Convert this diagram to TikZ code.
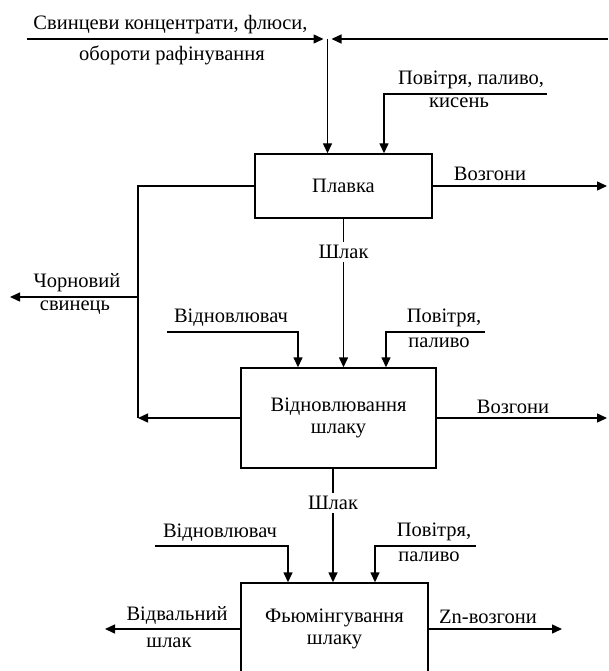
\documentclass[tikz,border=0pt]{standalone}
\usepackage{fontspec}
\setmainfont{Liberation Serif}
\usetikzlibrary{arrows.meta}
\begin{document}
\begin{tikzpicture}[x=1pt,y=-1pt,
  every node/.style={font=\fontsize{20.5}{22}\selectfont, inner sep=1pt, text=black},
  proc/.style={draw, line width=1.4pt, align=center, inner sep=0pt},
  flow/.style={line width=1.4pt},
  arr/.style={flow, -{Triangle[length=10pt,width=9pt]}},
  gap/.style={fill=white, inner sep=3pt}]
\clip (0,0) rectangle (608,671);

% process boxes
\node[proc, minimum width=177pt, minimum height=64pt] (plav) at (343.5,186) {Плавка};
\node[proc, minimum width=195pt, minimum height=100pt] (vidn) at (338.5,418) {Відновлювання\\шлаку};
\node[proc, minimum width=187pt, minimum height=92pt] (fum) at (334.5,629) {Фьюмінгування\\шлаку};

% labels
\node (lconc) at (170.5,25) {Свинцеви концентрати, флюси,};
\node (lobor) at (172,55) {обороти рафінування};
\node (lair1a) at (471,80) {Повітря, паливо,};
\node (lair1b) at (459,103) {кисень};
\node (lvoz1) at (490,174) {Возгони};
\node[gap] (shl1) at (343.5,252) {Шлак};
\node (lch1) at (77,283) {Чорновий};
\node (lch2) at (75,308) {свинець};
\node (lred2) at (231,318) {Відновлювач};
\node (lair2a) at (444,318) {Повітря,};
\node (lair2b) at (439,343) {паливо};
\node (lvoz2) at (513,407) {Возгони};
\node[gap] (shl2) at (333,503) {Шлак};
\node (lred3) at (220,533) {Відновлювач};
\node (lair3a) at (434,532) {Повітря,};
\node (lair3b) at (429,557) {паливо};
\node (ldump1) at (177,615) {Відвальний};
\node (ldump2) at (169,643) {шлак};
\node (lzn) at (488,617) {Zn-возгони};

% free ends of connectors
\coordinate (jn) at (327.5,39);
\coordinate (topL) at (27,39);
\coordinate (topR) at (608,39);
\coordinate (air1e) at (547,94);
\coordinate (air1c) at (384,94);
\coordinate (voz1e) at (607,186);
\coordinate (loop) at (138,418);
\coordinate (chern) at (138,297);
\coordinate (chernE) at (10,297);
\coordinate (red2s) at (167,332);
\coordinate (red2c) at (298,332);
\coordinate (air2e) at (485,332);
\coordinate (air2c) at (386,332);
\coordinate (voz2e) at (607,418);
\coordinate (red3s) at (155,546);
\coordinate (red3c) at (288,546);
\coordinate (air3e) at (476,546);
\coordinate (air3c) at (375,546);
\coordinate (dumpE) at (105,629);
\coordinate (znE) at (562,629);

% feed line with the two converging arrows
\draw[arr] (topL) -- ([xshift=-4pt]jn);
\draw[arr] (topR) -- ([xshift=4pt]jn);
\draw[arr] (jn) -- (jn |- plav.north);

% smelting
\draw[arr] (air1e) -- (air1c) -- (air1c |- plav.north);
\draw[arr] (plav.east) -- (voz1e);
\draw[flow] (plav.west) -| (loop);
\draw[arr] (chern) -- (chernE);
\draw[flow] (plav.south) -- (shl1.north);
\draw[arr] (shl1.south) -- (shl1 |- vidn.north);

% slag reduction
\draw[arr] (red2s) -- (red2c) -- (red2c |- vidn.north);
\draw[arr] (air2e) -- (air2c) -- (air2c |- vidn.north);
\draw[arr] (vidn.west) -- (loop);
\draw[arr] (vidn.east) -- (voz2e);
\draw[flow] (vidn.south -| shl2) -- (shl2.north);
\draw[arr] (shl2.south) -- (shl2 |- fum.north);

% slag fuming
\draw[arr] (red3s) -- (red3c) -- (red3c |- fum.north);
\draw[arr] (air3e) -- (air3c) -- (air3c |- fum.north);
\draw[arr] (fum.west) -- (dumpE);
\draw[arr] (fum.east) -- (znE);
\end{tikzpicture}
\end{document}
